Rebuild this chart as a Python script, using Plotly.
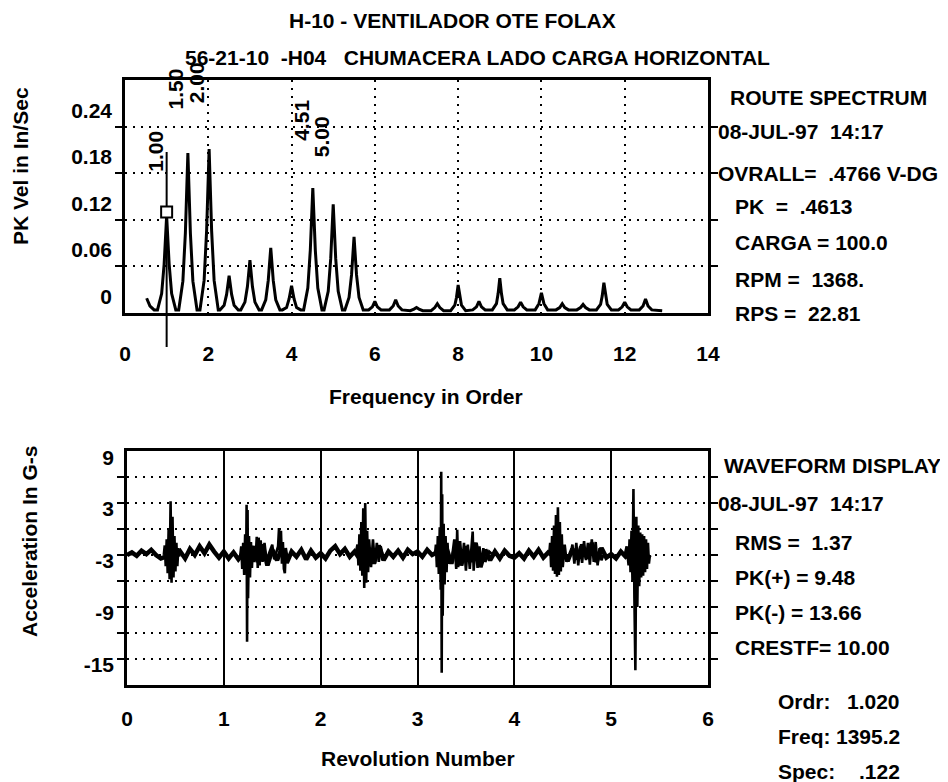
import plotly.graph_objects as go

# ---------------- DATA ----------------
# Route spectrum (order vs PK velocity in/sec)
spec_freq = [0.52, 0.60, 0.70, 0.78, 0.88, 0.94, 1.00, 1.06, 1.12, 1.22,
             1.29, 1.39, 1.45, 1.51, 1.57, 1.63, 1.73,
             1.80, 1.90, 1.96, 2.02, 2.08, 2.14, 2.24,
             2.28, 2.38, 2.44, 2.50, 2.56, 2.62, 2.72,
             2.78, 2.88, 2.94, 3.00, 3.06, 3.12, 3.22,
             3.28, 3.38, 3.44, 3.50, 3.56, 3.62, 3.72,
             3.78, 3.88, 3.94, 4.00, 4.06, 4.12, 4.22,
             4.29, 4.39, 4.45, 4.51, 4.57, 4.63, 4.73,
             4.78, 4.88, 4.94, 5.00, 5.06, 5.12, 5.22,
             5.28, 5.38, 5.44, 5.50, 5.56, 5.62, 5.72,
             5.85, 5.94, 6.00, 6.06, 6.15,
             6.35, 6.44, 6.50, 6.56, 6.65,
             6.85, 6.94, 7.00, 7.06, 7.15,
             7.35, 7.44, 7.50, 7.56, 7.65,
             7.82, 7.92, 7.96, 8.00, 8.04, 8.08, 8.18,
             8.35, 8.44, 8.50, 8.56, 8.65,
             8.82, 8.92, 8.96, 9.00, 9.04, 9.08, 9.18,
             9.35, 9.44, 9.50, 9.56, 9.65,
             9.85, 9.94, 10.00, 10.06, 10.15,
             10.35, 10.44, 10.50, 10.56, 10.65,
             10.85, 10.94, 11.00, 11.06, 11.15,
             11.32, 11.42, 11.46, 11.50, 11.54, 11.58, 11.68,
             11.85, 11.94, 12.00, 12.06, 12.15,
             12.35, 12.44, 12.50, 12.56, 12.65,
             12.80, 12.90]
spec_amp = [0.019, 0.009, 0.004, 0.004, 0.025, 0.063, 0.125, 0.063, 0.025, 0.004,
            0.004, 0.041, 0.103, 0.206, 0.103, 0.041, 0.004,
            0.004, 0.042, 0.106, 0.211, 0.106, 0.042, 0.004,
            0.004, 0.010, 0.024, 0.048, 0.024, 0.010, 0.004,
            0.004, 0.014, 0.034, 0.068, 0.034, 0.014, 0.004,
            0.004, 0.017, 0.042, 0.084, 0.042, 0.017, 0.004,
            0.004, 0.007, 0.018, 0.035, 0.018, 0.007, 0.004,
            0.004, 0.032, 0.081, 0.161, 0.081, 0.032, 0.004,
            0.004, 0.028, 0.070, 0.140, 0.070, 0.028, 0.004,
            0.004, 0.020, 0.049, 0.098, 0.049, 0.020, 0.004,
            0.004, 0.008, 0.015, 0.008, 0.004,
            0.004, 0.009, 0.017, 0.009, 0.004,
            0.003, 0.005, 0.007, 0.005, 0.003,
            0.003, 0.007, 0.012, 0.007, 0.003,
            0.003, 0.010, 0.020, 0.036, 0.020, 0.010, 0.003,
            0.004, 0.008, 0.015, 0.008, 0.004,
            0.004, 0.012, 0.025, 0.045, 0.025, 0.012, 0.004,
            0.004, 0.008, 0.014, 0.008, 0.004,
            0.004, 0.012, 0.026, 0.012, 0.004,
            0.004, 0.007, 0.012, 0.007, 0.004,
            0.004, 0.007, 0.011, 0.007, 0.004,
            0.004, 0.011, 0.022, 0.039, 0.022, 0.011, 0.004,
            0.004, 0.008, 0.014, 0.008, 0.004,
            0.004, 0.009, 0.018, 0.009, 0.004,
            0.003, 0.003]

spec_x_ticks = [0, 2, 4, 6, 8, 10, 12, 14]
spec_x_labels = ["0", "2", "4", "6", "8", "10", "12", "14"]
spec_y_grid = [0.06, 0.12, 0.18, 0.24]
spec_y_label_vals = [0.021, 0.081, 0.141, 0.201, 0.261]
spec_y_labels = ["0", "0.06", "0.12", "0.18", "0.24"]

peak_label_text = ["1.00", "1.50", "2.00", "4.51", "5.00"]
peak_label_order = [1.00, 1.50, 2.00, 4.51, 5.00]

cursor_order = 1.00
cursor_mark = 0.130

# Waveform (revolution number vs acceleration G-s)
base_rev = [0.00, 0.05, 0.10, 0.15, 0.20, 0.25, 0.30, 0.35, 0.40, 0.45,
            0.50, 0.55, 0.60, 0.65, 0.70, 0.75, 0.80, 0.85, 0.90, 0.95,
            1.00, 1.05, 1.10, 1.15, 1.20, 1.25, 1.30, 1.35, 1.40, 1.45,
            1.50, 1.55, 1.60, 1.65, 1.70, 1.75, 1.80, 1.85, 1.90, 1.95,
            2.00, 2.05, 2.10, 2.15, 2.20, 2.25, 2.30, 2.35, 2.40, 2.45,
            2.50, 2.55, 2.60, 2.65, 2.70, 2.75, 2.80, 2.85, 2.90, 2.95,
            3.00, 3.05, 3.10, 3.15, 3.20, 3.25, 3.30, 3.35, 3.40, 3.45,
            3.50, 3.55, 3.60, 3.65, 3.70, 3.75, 3.80, 3.85, 3.90, 3.95,
            4.00, 4.05, 4.10, 4.15, 4.20, 4.25, 4.30, 4.35, 4.40, 4.45,
            4.50, 4.55, 4.60, 4.65, 4.70, 4.75, 4.80, 4.85, 4.90, 4.95,
            5.00, 5.05, 5.10, 5.15, 5.20, 5.25, 5.30, 5.35, 5.40]
base_acc = [-3.0, -2.7, -3.1, -2.5, -2.9, -2.4, -3.0, -3.4, -3.2, -3.0,
            -3.3, -2.6, -3.4, -2.3, -3.0, -2.0, -2.8, -1.8, -2.6, -3.3,
            -2.6, -3.4, -2.7, -3.5, -2.8, -3.0, -2.0, -3.8, -1.8, -4.2,
            -2.4, -3.6, -2.2, -3.9, -2.6, -3.2, -2.4, -3.5, -2.5, -3.3,
            -2.8, -3.4, -2.5, -2.0, -2.9, -2.3, -3.2, -2.6, -3.4, -3.0,
            -2.2, -4.0, -1.9, -3.6, -2.6, -3.2, -2.5, -3.3, -2.4, -2.9,
            -2.6, -3.2, -2.4, -3.0, -2.7, -3.0, -2.2, -4.0, -1.5, -4.2,
            -2.0, -3.8, -1.6, -4.4, -2.4, -3.6, -2.6, -3.4, -2.5, -3.1,
            -3.3, -2.8, -3.4, -2.5, -3.2, -2.4, -3.3, -2.7, -3.1, -3.0,
            -2.6, -3.7, -2.3, -3.5, -1.8, -3.4, -1.6, -3.8, -2.2, -3.3,
            -2.9, -3.4, -2.6, -3.2, -2.8, -3.0, -2.4, -3.6, -3.0]

burst1_rev = [0.38, 0.39, 0.40, 0.41, 0.42, 0.43, 0.44, 0.45, 0.46, 0.47, 0.48, 0.49, 0.50, 0.51, 0.52, 0.53, 0.54]
burst1_acc = [-3.0, -1.9, -4.3, -1.2, -5.1, 0.0, -5.8, 3.2, -6.2, 1.4, -5.6, -0.8, -4.9, -1.6, -4.3, -2.2, -3.2]

burst2_rev = [1.17, 1.18, 1.19, 1.20, 1.21, 1.22, 1.23, 1.235, 1.24, 1.245, 1.25, 1.26, 1.27, 1.28, 1.29, 1.30, 1.31, 1.33]
burst2_acc = [-3.0, -2.0, -4.6, -1.6, -5.3, -0.6, -4.8, 2.8, -13.0, 2.2, -8.0, -0.8, -5.6, -1.5, -4.5, -2.0, -3.8, -3.0]

burst3_rev = [1.33, 1.34, 1.35, 1.36, 1.37, 1.38, 1.40, 1.42, 1.44, 1.50, 1.52, 1.56, 1.57, 1.58, 1.59, 1.60, 1.61, 1.62, 1.63, 1.64, 1.66, 1.68]
burst3_acc = [-3.0, -0.9, -4.5, -1.0, -4.2, -1.3, -3.8, -1.6, -3.6, -1.8, -3.5, -2.0, 0.1, -3.0, -0.2, -4.0, -1.5, -4.6, -5.1, -2.2, -3.6, -3.0]

burst4_rev = [2.36, 2.38, 2.39, 2.40, 2.41, 2.42, 2.43, 2.44, 2.45, 2.46, 2.47, 2.48, 2.49, 2.50, 2.52, 2.54, 2.56, 2.58, 2.60, 2.62, 2.64]
burst4_acc = [-3.0, -1.8, -4.2, -0.6, -4.8, 0.8, -5.4, 2.4, -6.8, 3.0, -6.2, -0.2, -5.0, -1.2, -4.4, -1.2, -4.0, -1.6, -3.8, -2.0, -3.0]

burst5_rev = [3.18, 3.19, 3.20, 3.21, 3.22, 3.23, 3.24, 3.245, 3.25, 3.255, 3.26, 3.27, 3.28, 3.29, 3.30, 3.31, 3.32, 3.34]
burst5_acc = [-3.0, -1.8, -4.4, -0.8, -5.2, 0.2, -7.0, 6.6, -16.6, 4.0, -10.0, 0.6, -6.4, -0.8, -5.0, -1.6, -4.0, -3.0]

burst6_rev = [3.36, 3.38, 3.40, 3.41, 3.42, 3.44, 3.46, 3.48, 3.50, 3.52, 3.54, 3.56, 3.57, 3.58, 3.60, 3.62, 3.64, 3.66, 3.68, 3.70, 3.74, 3.78]
burst6_acc = [-3.0, -1.2, -4.6, -0.1, -4.4, -1.4, -4.2, -1.6, -4.8, -1.8, -4.6, -1.0, -0.3, -4.8, -1.6, -4.5, -2.0, -4.2, -2.2, -3.8, -2.6, -3.0]

burst7_rev = [4.36, 4.37, 4.38, 4.39, 4.40, 4.41, 4.42, 4.43, 4.44, 4.45, 4.46, 4.47, 4.48, 4.49, 4.50, 4.52, 4.54, 4.56]
burst7_acc = [-3.0, -1.6, -4.4, -0.8, -4.8, 0.4, -5.2, 1.6, -5.5, 2.5, -5.3, 0.8, -4.9, -0.6, -4.4, -1.8, -3.8, -3.0]

burst8_rev = [4.58, 4.60, 4.62, 4.64, 4.66, 4.68, 4.70, 4.72, 4.74, 4.76, 4.78, 4.80, 4.82, 4.84, 4.86, 4.88, 4.90, 4.92]
burst8_acc = [-3.0, -1.8, -4.0, -1.6, -4.2, -2.0, -3.9, -1.4, -3.6, -1.6, -4.1, -1.2, -3.8, -1.5, -4.2, -2.2, -3.6, -3.0]

burst9_rev = [5.14, 5.16, 5.18, 5.19, 5.20, 5.21, 5.22, 5.23, 5.24, 5.25, 5.26, 5.27, 5.28, 5.29, 5.30, 5.31, 5.32, 5.33, 5.34, 5.35, 5.36, 5.37, 5.38, 5.39, 5.40]
burst9_acc = [-3.0, -2.0, -4.2, -1.2, -5.0, -0.2, -6.0, 4.6, -8.0, -16.3, 1.4, -9.0, 0.4, -6.6, -0.4, -5.6, -0.6, -5.4, -0.8, -5.0, -1.2, -4.6, -1.6, -4.0, -3.0]

wave_x_ticks = [0, 1, 2, 3, 4, 5, 6]
wave_x_labels = ["0", "1", "2", "3", "4", "5", "6"]
wave_y_grid = [6, 3, 0, -3, -6, -9, -12, -15]
wave_y_label_vals = [8.2, 2.4, -3.7, -9.6, -15.6]
wave_y_labels = ["9", "3", "-3", "-9", "-15"]

title_1 = "H-10 - VENTILADOR OTE FOLAX"
title_2 = "56-21-10\u00a0 -H04\u00a0\u00a0 CHUMACERA LADO CARGA HORIZONTAL"

spec_info = ["ROUTE SPECTRUM", "08-JUL-97\u00a0 14:17", "OVRALL=\u00a0 .4766 V-DG",
             "PK\u00a0 =\u00a0 .4613", "CARGA = 100.0", "RPM =\u00a0 1368.", "RPS =\u00a0 22.81"]
wave_info = ["WAVEFORM DISPLAY", "08-JUL-97\u00a0 14:17", "RMS =\u00a0 1.37",
             "PK(+) = 9.48", "PK(-) = 13.66", "CRESTF= 10.00"]
cursor_keys = ["Ordr:", "Freq:", "Spec:"]
cursor_vals = ["1.020", "1395.2", ".122"]

# ---------------- LAYOUT HELPERS ----------------
# the page body has an 8px default margin: the figure is offset by it
OFF = 8
W, H = 948 - OFF, 782 - OFF
def px(p):
    return (p - OFF) / W
def py(p):
    return 1 - (p - OFF) / H

FONT = "Liberation Sans"
FS = 21
DOTS = "2px,6px"

fig = go.Figure()

fig.add_trace(go.Scatter(x=spec_freq, y=spec_amp, mode="lines",
                         line=dict(color="black", width=3),
                         xaxis="x", yaxis="y", hoverinfo="skip"))
fig.add_trace(go.Scatter(x=[cursor_order], y=[cursor_mark], mode="markers",
                         marker=dict(symbol="square", size=11, color="white",
                                     line=dict(color="black", width=2)),
                         xaxis="x", yaxis="y", hoverinfo="skip", cliponaxis=False))

fig.add_trace(go.Scatter(x=base_rev, y=base_acc, mode="lines",
                         line=dict(color="black", width=4.5),
                         xaxis="x2", yaxis="y2", hoverinfo="skip"))
for r, a in [(burst1_rev, burst1_acc), (burst2_rev, burst2_acc), (burst3_rev, burst3_acc),
             (burst4_rev, burst4_acc), (burst5_rev, burst5_acc), (burst6_rev, burst6_acc),
             (burst7_rev, burst7_acc), (burst8_rev, burst8_acc), (burst9_rev, burst9_acc)]:
    fig.add_trace(go.Scatter(x=r, y=a, mode="lines",
                             line=dict(color="black", width=2.6),
                             xaxis="x2", yaxis="y2", hoverinfo="skip"))

axis_common = dict(showline=True, linecolor="black", linewidth=2.5, zeroline=False,
                   fixedrange=True, automargin=False)

fig.update_layout(
    template="none",
    width=W, height=H,
    margin=dict(l=0, r=0, t=0, b=0, pad=0, autoexpand=False),
    paper_bgcolor="white", plot_bgcolor="white",
    showlegend=False,
    font=dict(family=FONT, size=FS, color="black", weight="bold"),
    xaxis=dict(domain=[px(125), px(708)], range=[0, 14], anchor="y",
               tickmode="array", tickvals=spec_x_ticks, ticktext=spec_x_labels,
               ticks="outside", ticklen=20, tickcolor="rgba(0,0,0,0)",
               showgrid=True, gridcolor="black", gridwidth=2, griddash=DOTS,
               mirror=True, **axis_common),
    yaxis=dict(domain=[py(313), py(80)], range=[0, 0.30], anchor="x",
               tickmode="array", tickvals=spec_y_label_vals, ticktext=spec_y_labels,
               ticks="outside", ticklen=6, tickcolor="rgba(0,0,0,0)",
               showgrid=False, mirror="ticks",
               minor=dict(tickmode="array", tickvals=spec_y_grid, ticks="outside",
                          ticklen=7, tickwidth=2, tickcolor="black",
                          showgrid=True, gridcolor="black", gridwidth=2, griddash=DOTS),
               **axis_common),
    xaxis2=dict(domain=[px(127), px(708)], range=[0, 6], anchor="y2",
                tickmode="array", tickvals=wave_x_ticks, ticktext=wave_x_labels,
                ticks="outside", ticklen=13, tickcolor="rgba(0,0,0,0)",
                showgrid=True, gridcolor="black", gridwidth=2,
                mirror=True, **axis_common),
    yaxis2=dict(domain=[py(685), py(451)], range=[-18, 9], anchor="x2",
                tickmode="array", tickvals=wave_y_label_vals, ticktext=wave_y_labels,
                ticks="outside", ticklen=6, tickcolor="rgba(0,0,0,0)",
                showgrid=False, mirror="ticks",
                minor=dict(tickmode="array", tickvals=wave_y_grid, ticks="outside",
                           ticklen=7, tickwidth=2, tickcolor="black",
                           showgrid=True, gridcolor="black", gridwidth=2, griddash=DOTS),
                **axis_common),
)

# cursor line
fig.add_shape(type="line", xref="x", yref="paper", x0=cursor_order, x1=cursor_order,
              y0=py(347), y1=py(152), line=dict(color="black", width=2), layer="below")

ann = []
def text(x, y, s, xanchor="left", angle=0, xref="paper", xshift=0):
    ann.append(dict(x=x, y=y, xref=xref, yref="paper", text=s, showarrow=False,
                    xanchor=xanchor, yanchor="middle", textangle=angle, xshift=xshift,
                    font=dict(family=FONT, size=FS, color="black", weight="bold")))

text(px(287), py(20), title_1)
text(px(183), py(58), title_2)

peak_label_y = [151, 89, 83, 120, 137]
for s, o, yy in zip(peak_label_text, peak_label_order, peak_label_y):
    text(o, py(yy), s, xanchor="center", angle=-90, xref="x", xshift=-11)

spec_info_x = [728, 716, 716, 733, 733, 733, 733]
spec_info_y = [97, 131, 174, 206, 242, 279, 313]
for s, xx, yy in zip(spec_info, spec_info_x, spec_info_y):
    text(px(xx), py(yy), s)

wave_info_x = [722, 716, 733, 733, 733, 733]
wave_info_y = [465, 503, 542, 577, 612, 647]
for s, xx, yy in zip(wave_info, wave_info_x, wave_info_y):
    text(px(xx), py(yy), s)

cursor_y = [701, 736, 771]
for k, v, yy in zip(cursor_keys, cursor_vals, cursor_y):
    text(px(776), py(yy), k)
    text(px(902), py(yy), v, xanchor="right")

text(px(426), py(396), "Frequency in Order", xanchor="center")
text(px(418), py(758), "Revolution Number", xanchor="center")
text(px(20), py(166), "PK Vel in In/Sec", xanchor="center", angle=-90)
text(px(29), py(542), "Acceleration In G-s", xanchor="center", angle=-90)

fig.update_layout(annotations=ann)

fig.write_html("out.html")
